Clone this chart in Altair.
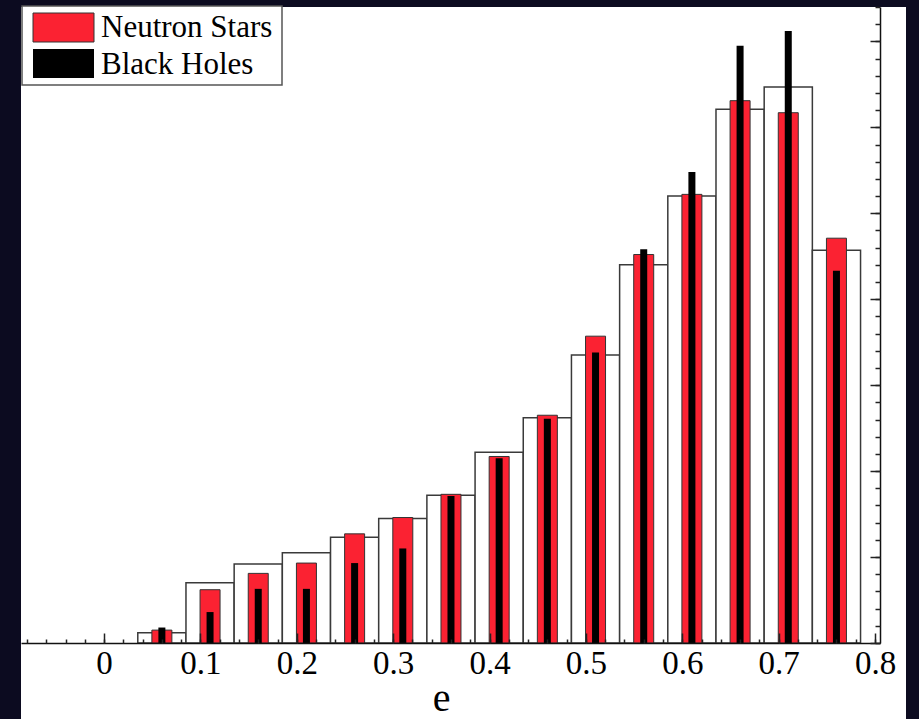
import altair as alt
import pandas as pd

# ---- data ----
bin_centers = [0.06, 0.11, 0.16, 0.21, 0.26, 0.31, 0.36, 0.41, 0.46, 0.51, 0.56, 0.61, 0.66, 0.71, 0.76]
all_hist = [0.12, 0.70, 0.92, 1.05, 1.23, 1.45, 1.72, 2.22, 2.62, 3.35, 4.40, 5.20, 6.21, 6.47, 4.57]
neutron_stars = [0.15, 0.62, 0.81, 0.93, 1.27, 1.46, 1.73, 2.17, 2.65, 3.57, 4.52, 5.22, 6.31, 6.17, 4.71]
black_holes = [0.18, 0.36, 0.63, 0.63, 0.93, 1.10, 1.71, 2.15, 2.61, 3.38, 4.58, 5.48, 6.95, 7.12, 4.33]
bin_width = 0.05

x_labels = [0, 0.1, 0.2, 0.3, 0.4, 0.5, 0.6, 0.7, 0.8]
x_minor = [round(-0.08 + 0.02 * i, 2) for i in range(45)]
y_major = [0, 1, 2, 3, 4, 5, 6, 7]
y_minor = [round(0.2 * i, 1) for i in range(38)]

legend_labels = ["Neutron Stars", "Black Holes"]
legend_colors = ["#fb2232", "#000000"]

df = pd.DataFrame({
    "c": bin_centers,
    "lo": [c - bin_width / 2 for c in bin_centers],
    "hi": [c + bin_width / 2 for c in bin_centers],
    "all": all_hist,
    "ns": neutron_stars,
    "bh": black_holes,
})

W, H = 859, 636
FONT = "Liberation Serif"

xscale = alt.Scale(domain=[-0.081, 0.8], nice=False, zero=False)
yscale = alt.Scale(domain=[0, 7.4], nice=False, zero=False)

base = alt.Chart(df)
one = alt.Chart(pd.DataFrame({"k": [0]}))

panel = one.mark_rect(fill="white").encode(
    x=alt.value(0), x2=alt.value(885), y=alt.value(0), y2=alt.value(712)
)

white = base.mark_bar(fill="white", stroke="#3a3a3a", strokeWidth=1.5, orient="vertical").encode(
    x=alt.X("lo:Q", scale=xscale, axis=alt.Axis(
        orient="bottom", values=x_labels, format=".1~f", ticks=False, tickSize=0,
        domain=True, domainColor="#111", domainWidth=1.5, grid=False, zindex=2,
        labelFont=FONT, labelFontSize=33, labelColor="black", labelPadding=4,
        labelFlush=False, labelOverlap=False, labelBound=False,
        title="e", titleFont=FONT, titleFontSize=40, titleFontWeight="normal",
        titleColor="black", titleBaseline="alphabetic", titleY=67, titleX=420)),
    x2="hi:Q",
    y=alt.Y("all:Q", scale=yscale, axis=alt.Axis(
        orient="left", offset=-W, values=y_major, tickSize=10, tickColor="#222",
        tickWidth=1.5, labels=False, domain=True, domainColor="#111", zindex=2,
        domainWidth=1.5, grid=False, title=None)),
)

red = base.mark_bar(size=20, fill=legend_colors[0], stroke="#333", strokeWidth=1,
                    orient="vertical").encode(
    x=alt.X("c:Q", scale=xscale, axis=alt.Axis(
        orient="top", offset=-H, values=x_labels, tickSize=10, tickColor="#222",
        tickWidth=1.5, labels=False, domain=False, grid=False, title=None, zindex=2)),
    y=alt.Y("ns:Q", scale=yscale, axis=alt.Axis(
        orient="left", offset=-W, values=y_minor, tickSize=5, tickColor="#222",
        tickWidth=1.5, labels=False, domain=False, grid=False, title=None, zindex=2)),
)

black = base.mark_bar(size=7, fill=legend_colors[1], orient="vertical").encode(
    x=alt.X("c:Q", scale=xscale, axis=alt.Axis(
        orient="top", offset=-H, values=x_minor, tickSize=4, tickColor="#222",
        tickWidth=1.5, labels=False, domain=False, grid=False, title=None, zindex=2)),
    y=alt.Y("bh:Q", scale=yscale, axis=None),
)

# legend (decoration)
box = one.mark_rect(fill="white", stroke="#555", strokeWidth=1.5).encode(
    x=alt.value(1), x2=alt.value(261), y=alt.value(-1), y2=alt.value(78)
)
sw1 = one.mark_rect(fill=legend_colors[0], stroke="#333", strokeWidth=1).encode(
    x=alt.value(12), x2=alt.value(73), y=alt.value(6), y2=alt.value(35)
)
sw2 = one.mark_rect(fill=legend_colors[1]).encode(
    x=alt.value(12), x2=alt.value(73), y=alt.value(42), y2=alt.value(71)
)
t1 = one.mark_text(align="left", baseline="alphabetic", font=FONT, fontSize=31,
                   color="black").encode(x=alt.value(80), y=alt.value(30),
                                         text=alt.value(legend_labels[0]))
t2 = one.mark_text(align="left", baseline="alphabetic", font=FONT, fontSize=31,
                   color="black").encode(x=alt.value(80), y=alt.value(67),
                                         text=alt.value(legend_labels[1]))

chart = alt.layer(panel, white, red, black, box, sw1, sw2, t1, t2).resolve_axis(
    x="independent", y="independent"
).properties(
    width=W, height=H,
    autosize=alt.AutoSizeParams(type="none"),
    padding={"left": 21, "top": 7, "right": 39, "bottom": 76},
    background="#0c0b20",
).configure_view(stroke=None)

chart.save("out.html", embed_options={"renderer": "svg", "actions": False})
